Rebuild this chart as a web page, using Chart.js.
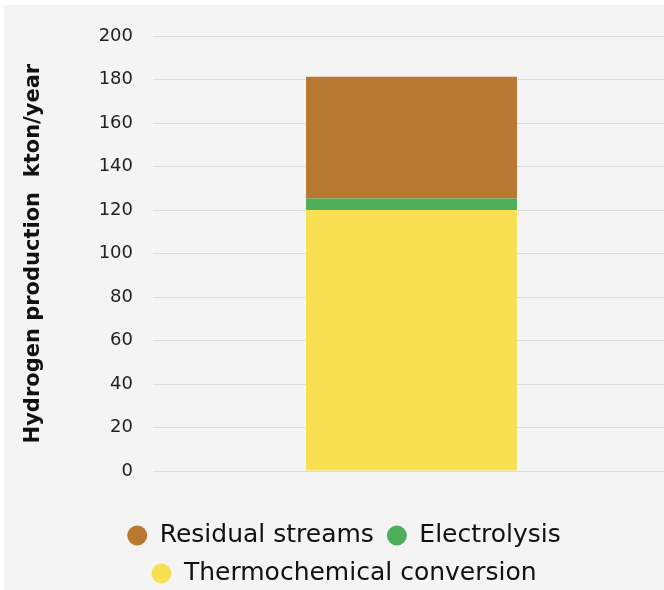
<!DOCTYPE html>
<html>
<head>
<meta charset="utf-8">
<script src="https://cdn.jsdelivr.net/npm/chart.js@4.4.1/dist/chart.umd.min.js"></script>
<style>
  html, body { margin: 0; padding: 0; background: #ffffff; overflow: hidden; }
  #panel { position: absolute; left: 4px; top: 5px; width: 660px; height: 585px; overflow: hidden; background: #f4f4f4; }
  canvas { display: block; }
</style>
</head>
<body>
<div id="panel"><canvas id="chart" width="666" height="591"></canvas></div>
<script>
// Hydrogen production by route, kton/year
const categories = [''];
const thermochemical = [120];
const electrolysis = [5.3];
const residualStreams = [56];
const yTicks = [0, 20, 40, 60, 80, 100, 120, 140, 160, 180, 200];

const ctx = document.getElementById('chart').getContext('2d');
new Chart(ctx, {
  type: 'bar',
  data: {
    labels: categories,
    datasets: [
      { label: 'Thermochemical conversion', data: thermochemical, backgroundColor: '#f9e053' },
      { label: 'Electrolysis', data: electrolysis, backgroundColor: '#4eae59' },
      { label: 'Residual streams', data: residualStreams, backgroundColor: '#b97832' }
    ]
  },
  options: {
    responsive: false,
    animation: false,
    devicePixelRatio: 1,
    layout: { padding: { top: 31.2, right: 0, bottom: 0, left: 14 } },
    datasets: { bar: { categoryPercentage: 0.408, barPercentage: 1 } },
    scales: {
      x: {
        stacked: true,
        border: { display: false },
        grid: { display: false },
        ticks: { display: false },
        afterFit(scale) { scale.height = 39; }
      },
      y: {
        stacked: true,
        min: 0,
        max: 200,
        afterBuildTicks(scale) { scale.ticks = yTicks.map(v => ({ value: v })); },
        afterFit(scale) { scale.width = 135; },
        border: { display: false },
        grid: { color: '#dcdcdc', lineWidth: 1, drawTicks: false },
        ticks: { color: '#222222', padding: 20, font: { family: 'DejaVu Sans', size: 18 } },
        title: {
          display: true,
          text: 'Hydrogen production  kton/year',
          color: '#111111',
          font: { family: 'DejaVu Sans', size: 21, weight: 'bold' },
          padding: { top: 3, bottom: 0 }
        }
      }
    },
    plugins: {
      tooltip: { enabled: false },
      legend: {
        position: 'bottom',
        reverse: true,
        labels: {
          usePointStyle: true,
          pointStyle: 'circle',
          boxWidth: 20,
          boxHeight: 14.14,
          pointStyleWidth: 20,
          padding: 13,
          color: '#111111',
          font: { family: 'DejaVu Sans', size: 25 }
        }
      }
    }
  }
});
</script>
</body>
</html>
